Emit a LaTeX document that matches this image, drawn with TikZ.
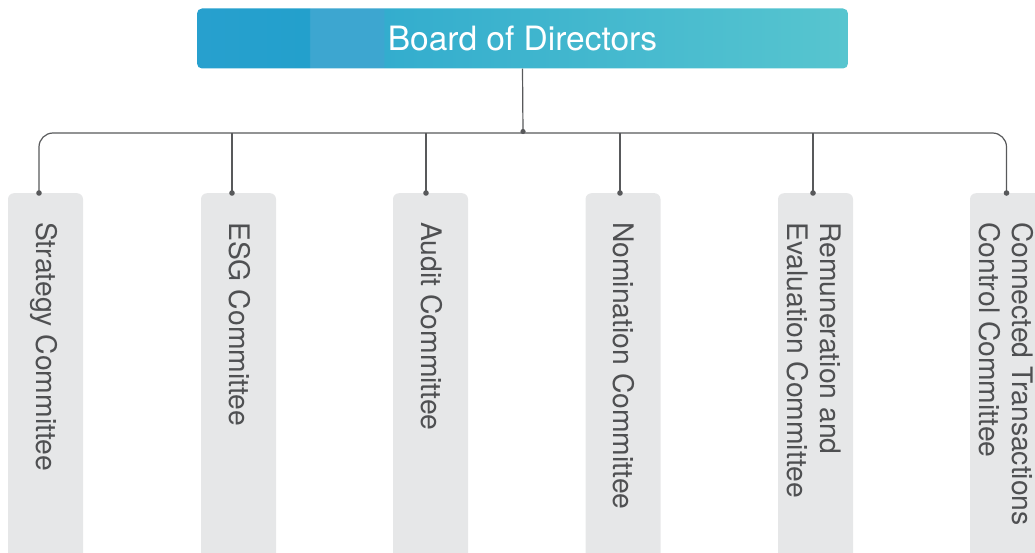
\documentclass[tikz,border=0pt]{standalone}
\usepackage{fontspec}
\setmainfont{TeX Gyre Heros}
\usepackage{xcolor}
\usetikzlibrary{positioning,calc}

\definecolor{linegray}{HTML}{58595B}
\definecolor{boxgray}{HTML}{E6E7E8}
\definecolor{textgray}{HTML}{4F5052}
\definecolor{boardA}{HTML}{27A0CE}
\definecolor{boardB}{HTML}{23A0CC}
\definecolor{boardC}{HTML}{3DA6D0}
\definecolor{boardE}{HTML}{33ADCE}
\definecolor{boardD}{HTML}{57C5CF}
\pgfdeclarehorizontalshading{boardshade}{100bp}{color(0bp)=(boardA); color(25bp)=(boardA); color(33.6bp)=(boardB); color(33.7bp)=(boardC); color(39.3bp)=(boardC); color(39.4bp)=(boardE); color(75bp)=(boardD); color(100bp)=(boardD)}

\tikzset{
  board/.style={rectangle, rounded corners=5pt, shading=boardshade, minimum width=651pt, minimum height=60pt, inner sep=0pt, text=white, font=\fontsize{33.5}{40}\selectfont},
  committee/.style={rectangle, rounded corners=6pt, fill=boxgray, minimum width=75pt, minimum height=420pt, inner sep=0pt, anchor=north},
  comtext/.style={rotate=-90, anchor=base west, inner sep=0pt, align=left, text=textgray, font=\fontsize{28.3}{33}\selectfont},
  link/.style={draw=linegray, line width=1.2pt},
  dot/.style={fill=linegray}
}

\begin{document}
\begin{tikzpicture}[x=1pt,y=-1pt]
	\clip (0,0) rectangle (1035,553);
	\node[board] (board) at (522.5,38.5) {Board of Directors};
	\coordinate (hub) at (523,133);
	% committees: name / box centre / drop point / last baseline / text
	\foreach \n/\bx/\dx/\tx/\txt in {strategy/45.5/39/36/{Strategy Committee},
		esg/238.5/232/229/{ESG Committee},
		audit/430.5/426/421/{Audit Committee},
		nomination/623/620/613.5/{Nomination Committee},
		remuneration/815.5/813/787.5/{Remuneration and\\Evaluation Committee},
		cttc/1007.5/1006.5/979.5/{Connected Transactions\\Control Committee}}{
		\node[committee] (\n) at (\bx,193) {};
		\coordinate (\n-top) at (\dx,193);
		\node[comtext] (\n-text) at (\tx,222) {\txt};
	}
	\draw[link] (board.south) -- (hub);
	\draw[link, rounded corners=14pt] (strategy-top) |- (cttc-top |- hub) -- (cttc-top);
	\foreach \n in {esg,audit,nomination,remuneration} \draw[link] (\n-top |- hub) -- (\n-top);
	\foreach \n in {strategy,esg,audit,nomination,remuneration,cttc} \fill[dot] (\n-top) circle (2.8pt);
	\fill[dot] ($(hub)+(0,-1.5)$) circle (2.6pt);
\end{tikzpicture}
\end{document}
